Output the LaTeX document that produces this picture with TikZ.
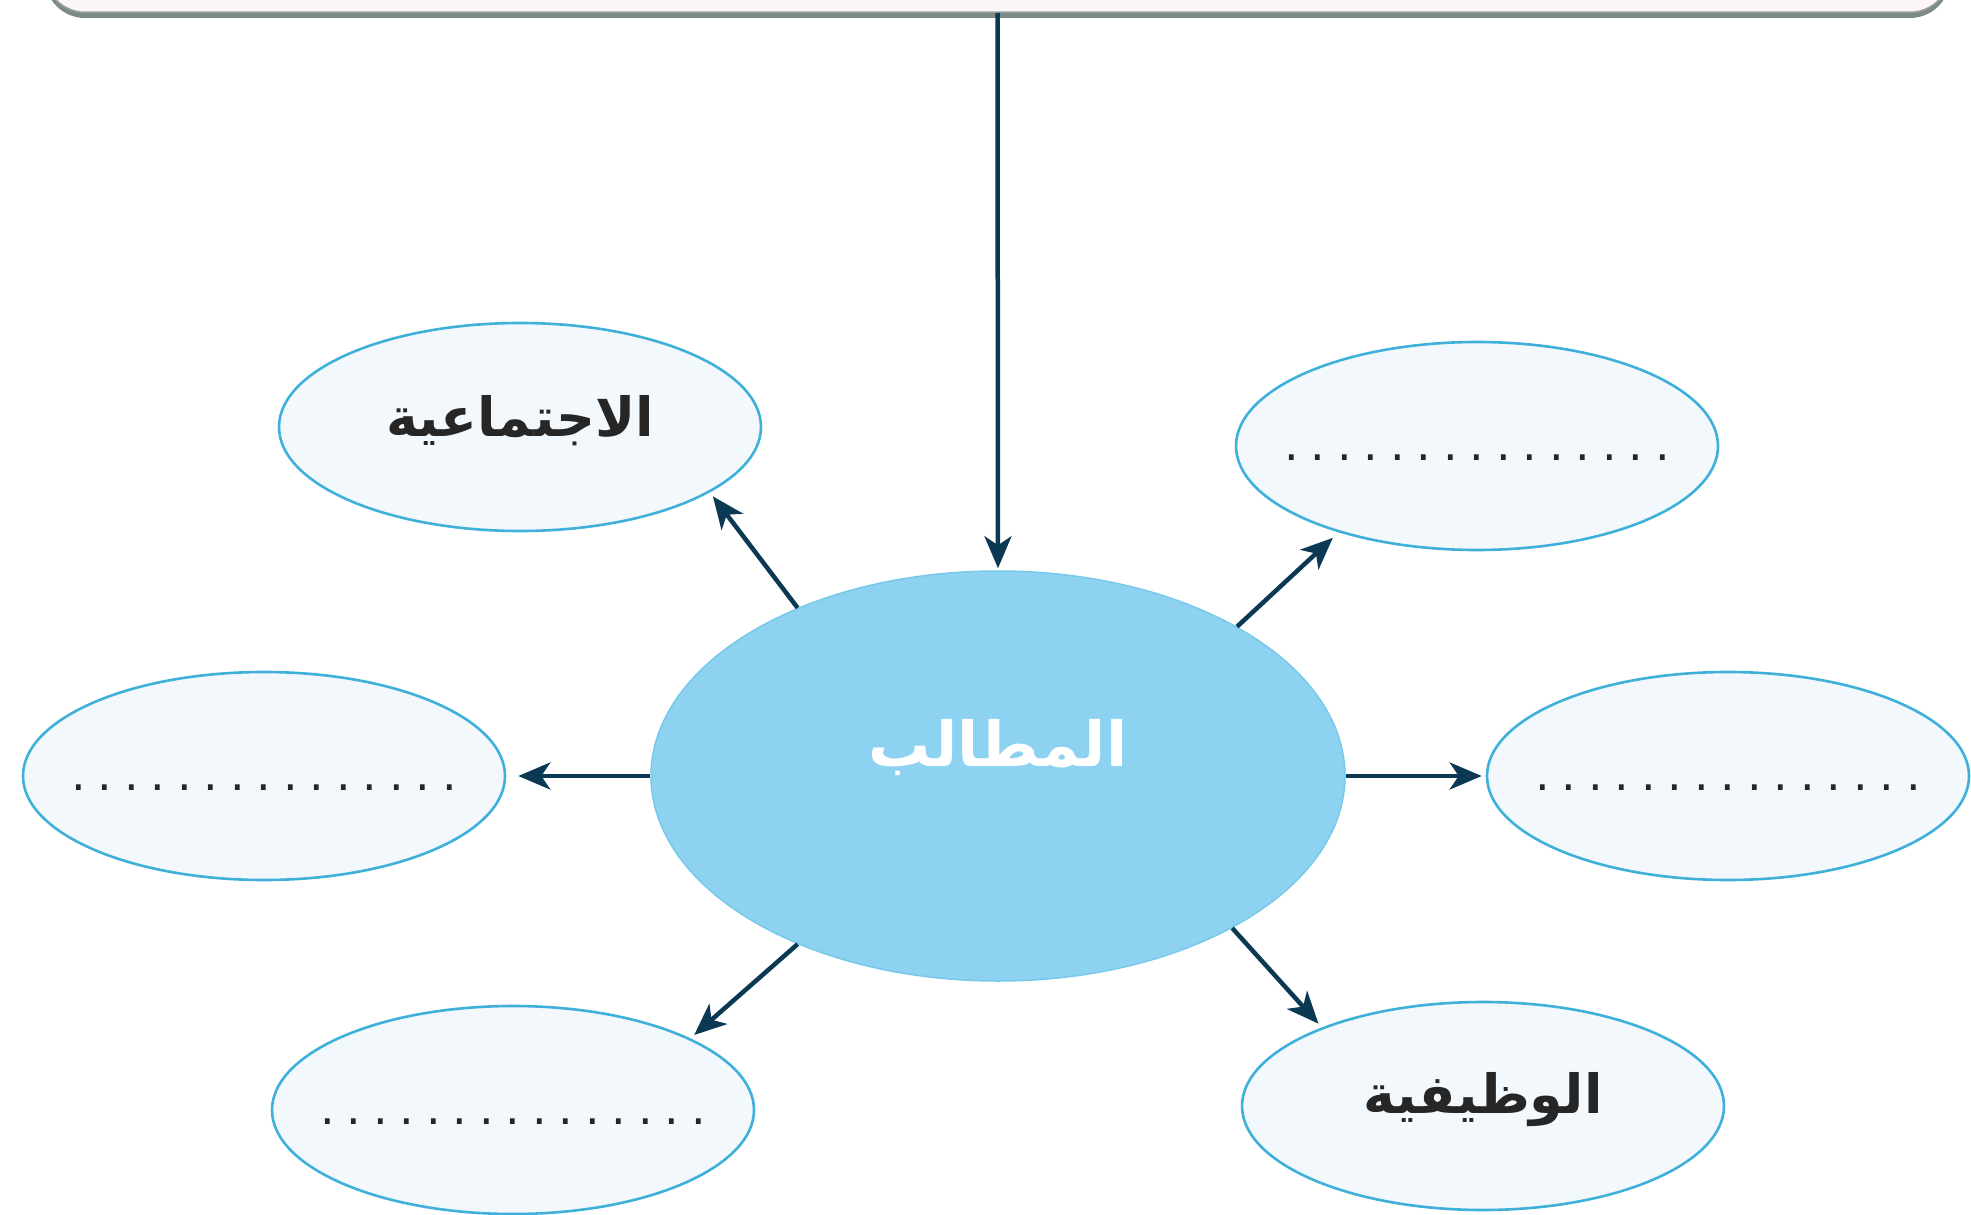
\documentclass[tikz,border=0pt]{standalone}
\usepackage{fontspec}
\usetikzlibrary{shapes.geometric,arrows.meta}
\newfontfamily\arabicfont[Script=Arabic]{DejaVu Sans}
\newfontfamily\dotfont{DejaVu Sans}
\TeXXeTstate=1
\definecolor{navy}{HTML}{0B3954}
\definecolor{outerfill}{HTML}{F3F8FC}
\definecolor{outerline}{HTML}{3FB0D9}
\definecolor{centerfill}{HTML}{8DD3F1}
\definecolor{centerline}{HTML}{78C8EA}
\definecolor{boxfill}{HTML}{FCF6F9}
\definecolor{boxline}{HTML}{7D8A88}
\newcommand{\onedot}{\makebox[26.5pt]{.}}
\newcommand{\dotrow}{{\dotfont\fontsize{46}{50}\selectfont\onedot\onedot\onedot\onedot\onedot\onedot\onedot\onedot\onedot\onedot\onedot\onedot\onedot\onedot\onedot}}
\tikzset{
  outerell/.style={ellipse, draw=outerline, line width=2.6pt, fill=outerfill,
    minimum width=482pt, minimum height=208pt, inner sep=0pt},
  centerell/.style={ellipse, draw=centerline, line width=1.5pt, fill=centerfill,
    minimum width=694pt, minimum height=410pt, inner sep=0pt},
  artext/.style={font=\arabicfont\bfseries\fontsize{54}{60}\selectfont, text=black!85, inner sep=0pt},
  dottext/.style={inner sep=0pt, text=black!85},
  conn/.style={draw=navy, line width=4.5pt, -{Stealth[length=32pt, width=27pt, inset=9pt]}, shorten >=5pt}
}
\begin{document}
\begin{tikzpicture}[x=1pt,y=-1pt]
\useasboundingbox (0,0) rectangle (1971,1215);
% top box (only its lower part is visible)
\fill[boxline, rounded corners=40pt] (45,-80) rectangle (1950,18);
\node[draw=boxline!80, fill=boxfill, line width=1.5pt, rounded corners=40pt,
  minimum width=1905pt, minimum height=90pt, anchor=south, inner sep=0pt] (top) at (997.5,13) {};
% ellipses
\node[centerell] (c) at (998,776) {};
\node[artext, font=\arabicfont\bfseries\fontsize{62}{68}\selectfont, text=white] (ct) at (998,748) {\beginR المطالب\endR};
\node[outerell] (tl) at (520,427) {};
\node[artext] (tlt) at (520,421) {\beginR الاجتماعية\endR};
\node[outerell] (tr) at (1477,446) {};
\node[dottext] (trt) at (1477,458) {\dotrow};
\node[outerell] (l) at (264,776) {};
\node[dottext] (lt) at (264,788) {\dotrow};
\node[outerell] (r) at (1728,776) {};
\node[dottext] (rt) at (1728,788) {\dotrow};
\node[outerell] (bl) at (513,1110) {};
\node[dottext] (blt) at (513,1122) {\dotrow};
\node[outerell] (br) at (1483,1106) {};
\node[artext] (brt) at (1483,1100) {\beginR الوظيفية\endR};
% connectors
\draw[conn, shorten >=2pt] (top.south) -- (c.north);
\draw[conn] (c.140) -- (tl.-19);
\draw[conn, shorten >=8pt] (c.32) -- (tr.-148);
\draw[conn, shorten >=12pt] (c.west) -- (l.east);
\draw[conn, shorten >=4pt] (c.east) -- (r.west);
\draw[conn] (c.220) -- (bl.22);
\draw[conn] (c.-33) -- (br.154);
\end{tikzpicture}
\end{document}
